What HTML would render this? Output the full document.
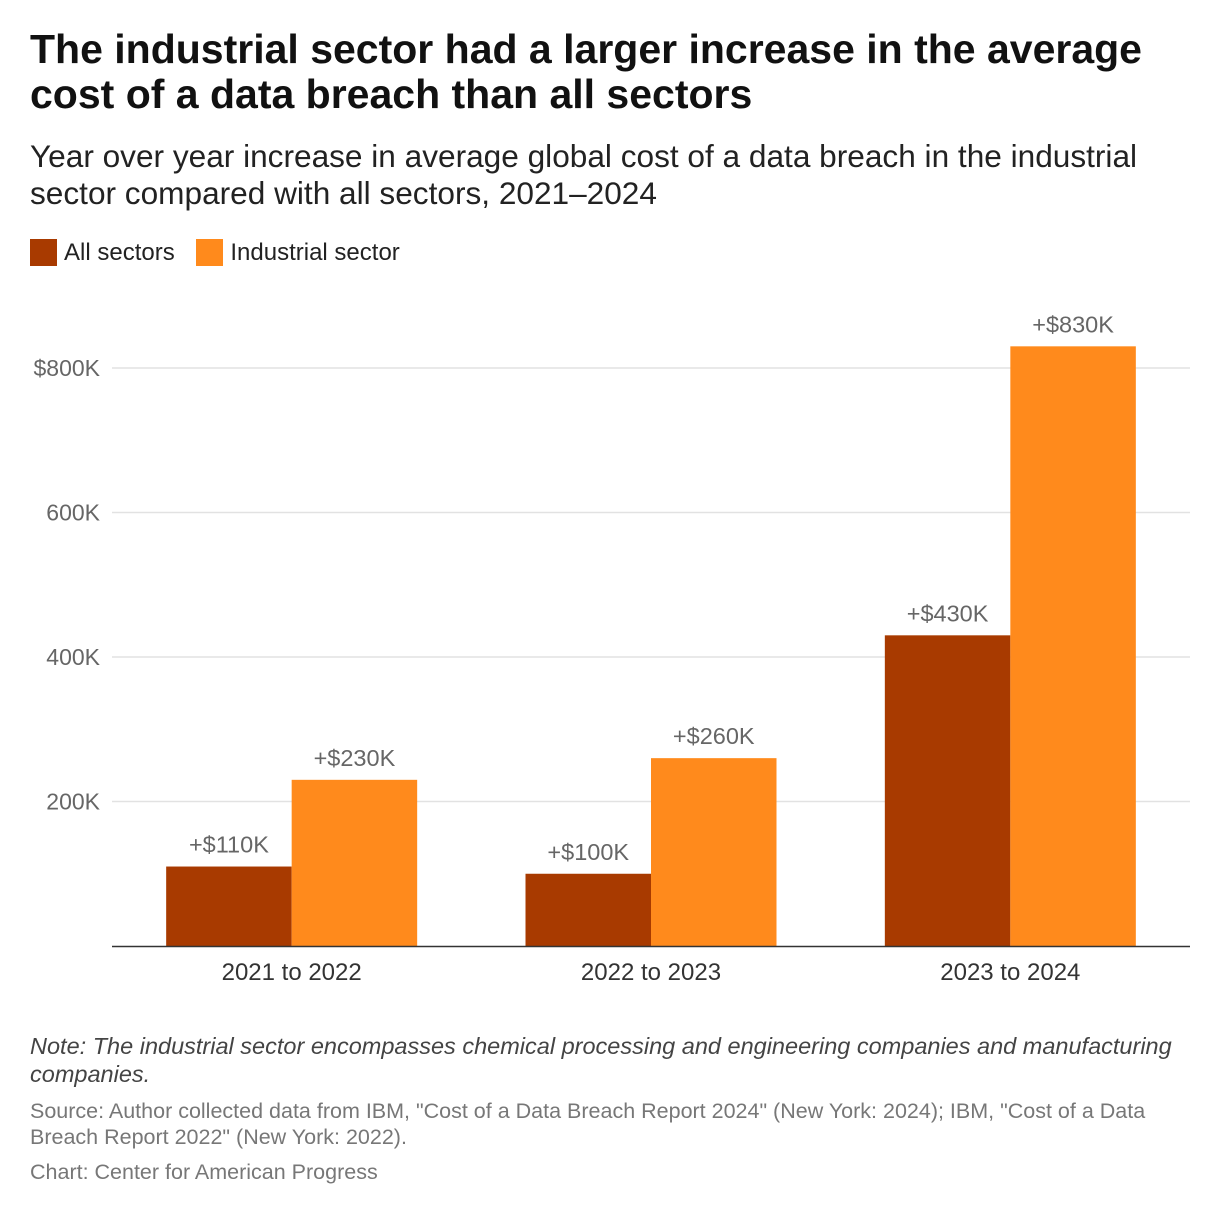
<!DOCTYPE html>
<html><head><meta charset="utf-8">
<style>
body{margin:0;background:#fff;font-family:"Liberation Sans",Arial,sans-serif;}
#wrap{position:relative;width:1220px;height:1216px;overflow:hidden;}
.t{position:absolute;left:30px;white-space:nowrap;}
</style></head>
<body>
<div id="wrap">
<div class="t" style="top:27px;font-size:41px;font-weight:bold;line-height:45px;color:#111;">The industrial sector had a larger increase in the average<br>cost of a data breach than all sectors</div>
<div class="t" style="top:138px;font-size:31.6px;line-height:37px;color:#222;">Year over year increase in average global cost of a data breach in the industrial<br>sector compared with all sectors, 2021–2024</div>
<div class="t" style="top:239px;font-size:24px;line-height:27px;color:#222;">
<span style="display:inline-block;"><span style="display:inline-block;width:27px;height:27px;background:#A83A00;vertical-align:top;margin-right:7px;"></span>All sectors</span>
<span style="display:inline-block;margin-left:15px;"><span style="display:inline-block;width:27px;height:27px;background:#FF8A1C;vertical-align:top;margin-right:7px;"></span>Industrial sector</span>
</div>
<svg id="chart" width="1220" height="1020" style="position:absolute;left:0;top:0;"></svg>
<div class="t" style="top:1032px;font-size:23.5px;line-height:28px;font-style:italic;color:#444;">Note: The industrial sector encompasses chemical processing and engineering companies and manufacturing<br>companies.</div>
<div class="t" style="top:1098px;font-size:21.5px;line-height:26px;color:#777;">Source: Author collected data from IBM, "Cost of a Data Breach Report 2024" (New York: 2024); IBM, "Cost of a Data<br>Breach Report 2022" (New York: 2022).</div>
<div class="t" style="top:1159px;font-size:21.5px;line-height:26px;color:#777;">Chart: Center for American Progress</div>
</div>
<script>
const categories = ["2021 to 2022","2022 to 2023","2023 to 2024"];
const allSectors = [110,100,430];
const industrial = [230,260,830];
const yTicks = [200,400,600,800];
const yTickLabels = ["200K","400K","600K","$800K"];
const svg=document.getElementById('chart');
const NS='http://www.w3.org/2000/svg';
const plotL=112,plotR=1190,base=946,top800=368;
const y=v=>base-(v/800)*(base-top800);
const band=(plotR-plotL)/categories.length;
const bw=125.5;
function mk(tag,attrs){const e=document.createElementNS(NS,tag);for(const k in attrs)e.setAttribute(k,attrs[k]);svg.appendChild(e);return e;}
yTicks.forEach((t,i)=>{
  const g=mk('line',{x1:plotL,x2:plotR,y1:y(t),y2:y(t),stroke:'#e2e2e2','stroke-width':1.5});
  
  
  const l=mk('text',{x:100,y:y(t)+8,'text-anchor':'end','font-size':23,fill:'#666','font-family':'Liberation Sans, sans-serif'});
  l.textContent=yTickLabels[i];
  
  
});
categories.forEach((c,i)=>{
  const cx=plotL+band*(i+0.5);
  [[allSectors[i],'#A83A00',cx-bw],[industrial[i],'#FF8A1C',cx]].forEach(([v,col,x],j)=>{
    const r=mk('rect',{x:x,y:y(v),width:bw,height:base-y(v),fill:col});
    
    
    const t=mk('text',{x:x+bw/2,y:y(v)-14,'text-anchor':'middle','font-size':23.5,fill:'#666','font-family':'Liberation Sans, sans-serif'});
    t.textContent='+$'+v+'K';
    
    
  });
  const xl=mk('text',{x:cx,y:980,'text-anchor':'middle','font-size':24,fill:'#333','font-family':'Liberation Sans, sans-serif'});
  xl.textContent=c;
  
  
});
const ax=mk('line',{x1:plotL,x2:plotR,y1:base+0.5,y2:base+0.5,stroke:'#333','stroke-width':1.5});


</script>
</body></html>
